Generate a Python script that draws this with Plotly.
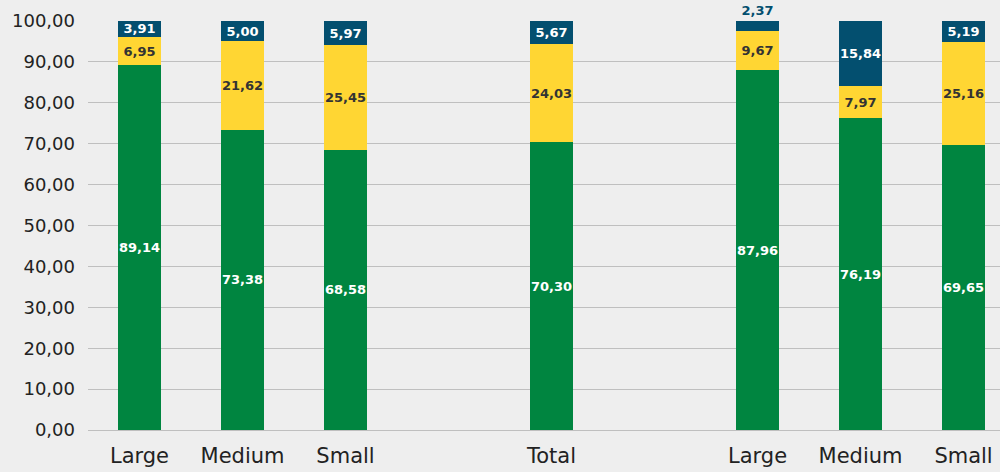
import plotly.graph_objects as go

categories = ["Large", "Medium", "Small", "", "Total", "", "Large", "Medium", "Small"]
green_vals = [89.14, 73.38, 68.58, None, 70.30, None, 87.96, 76.19, 69.65]
yellow_vals = [6.95, 21.62, 25.45, None, 24.03, None, 9.67, 7.97, 25.16]
blue_vals = [3.91, 5.00, 5.97, None, 5.67, None, 2.37, 15.84, 5.19]
y_ticks = [0, 10, 20, 30, 40, 50, 60, 70, 80, 90, 100]

GREEN = "#008540"
YELLOW = "#FFD633"
BLUE = "#034F6F"
FONT = "DejaVu Sans"

x = list(range(len(categories)))


def fmt(v):
    return "" if v is None else f"{v:.2f}".replace(".", ",")


fig = go.Figure()


def add(vals, color, textcolor, positions=None):
    fig.add_trace(go.Bar(
        x=x, y=vals, marker=dict(color=color, line=dict(width=0)),
        width=0.41,
        text=[fmt(v) for v in vals],
        textposition=positions if positions else "inside",
        insidetextanchor="middle",
        textangle=0,
        constraintext="none",
        textfont=dict(family=FONT, size=13, color=textcolor, weight="bold"),
        outsidetextfont=dict(family=FONT, size=13, color=BLUE, weight="bold"),
        cliponaxis=False,
        hoverinfo="skip",
    ))


add(green_vals, GREEN, "white")
add(yellow_vals, YELLOW, "#333333")
blue_pos = ["outside" if (v is not None and v < 3) else "inside" for v in blue_vals]
add(blue_vals, BLUE, "white", blue_pos)

tick_idx = [i for i, c in enumerate(categories) if c]
fig.update_layout(
    barmode="stack",
    width=1000, height=472,
    margin=dict(l=88, r=0, t=21, b=42),
    paper_bgcolor="#EEEEEE", plot_bgcolor="#EEEEEE",
    showlegend=False,
    separators=",.",
    uniformtext=dict(minsize=13, mode="show"),
    font=dict(family=FONT, color="#222222"),
    xaxis=dict(
        range=[-0.5, 8.354], tickmode="array",
        tickvals=tick_idx, ticktext=[categories[i] for i in tick_idx],
        tickfont=dict(size=21, family=FONT, color="#222222"),
        showgrid=False, zeroline=False, ticks="", ticklabelstandoff=11,
        fixedrange=True,
    ),
    yaxis=dict(
        range=[0, 100], tickmode="array", tickvals=y_ticks, tickformat=".2f",
        tickfont=dict(size=18, family=FONT, color="#222222"),
        showgrid=True, gridcolor="#BFBFBF", gridwidth=1.2,
        zeroline=True, zerolinecolor="#BFBFBF", zerolinewidth=1.2,
        ticks="", ticklabelstandoff=12,
    ),
)

fig.write_html("out.html")
